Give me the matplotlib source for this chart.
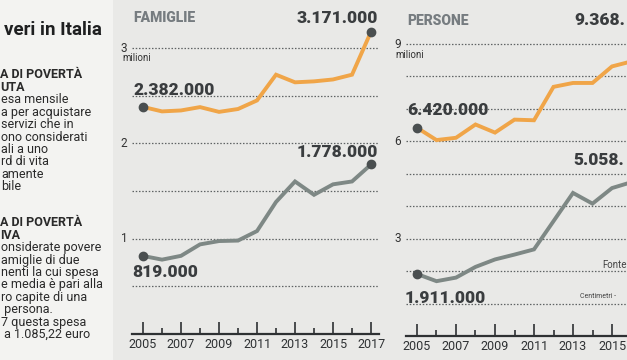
import matplotlib
matplotlib.use('Agg')
import matplotlib.pyplot as plt
from matplotlib.patches import Rectangle

W, H = 627, 360
fig = plt.figure(figsize=(6.27, 3.6), dpi=100)
fig.patch.set_facecolor('#e9e9e7')

# ---- data (millions) ----
years = list(range(2005, 2018))
fam_relative = [2.382, 2.335, 2.345, 2.38, 2.33, 2.36, 2.45, 2.72, 2.64, 2.65, 2.67, 2.72, 3.171]
fam_absolute = [0.819, 0.78, 0.82, 0.94, 0.975, 0.98, 1.08, 1.385, 1.60, 1.46, 1.57, 1.60, 1.778]
per_relative = [6.420, 6.04, 6.11, 6.52, 6.27, 6.67, 6.65, 7.68, 7.80, 7.80, 8.31, 8.465, 9.368]
per_absolute = [1.911, 1.69, 1.80, 2.13, 2.36, 2.51, 2.67, 3.54, 4.41, 4.08, 4.56, 4.742, 5.058]
fam_labels = ["2.382.000", "3.171.000", "819.000", "1.778.000"]
per_labels = ["6.420.000", "9.368.", "1.911.000", "5.058."]
fam_yticks = [1, 2, 3]
per_yticks = [3, 6, 9]

ORANGE = '#f0a548'
GREY = '#7e8885'
DOT = '#4a4f50'
DARK = '#3a3d3f'
TITLE = '#767c80'
FONT = 'Roboto'


def ftext(x, y, s, **kw):
    kw.setdefault('va', 'center')
    kw.setdefault('family', FONT)
    fig.text(x / W, 1 - y / H, s, **kw)


def px_axes(l, t, r, b):
    return fig.add_axes([l / W, 1 - b / H, (r - l) / W, (b - t) / H])

# left text column background
fig.patches.append(Rectangle((0, 0), 113 / W, 1, transform=fig.transFigure,
                             facecolor='#f3f3f1', edgecolor='none', zorder=0))


def style_axes(ax, xlim, ylim, grid_vals, max_label_year):
    ax.set_xlim(*xlim)
    ax.set_ylim(*ylim)
    ax.patch.set_alpha(0)
    for s in ['top', 'right', 'left']:
        ax.spines[s].set_visible(False)
    ax.spines['bottom'].set_color('#2e3133')
    ax.spines['bottom'].set_linewidth(1.6)
    ax.set_yticks([])
    ax.set_xticks([y for y in years if y % 2 == 1 and y <= max_label_year])
    ax.set_xticks([y for y in years if y % 2 == 0], minor=True)
    ax.tick_params(axis='x', which='major', direction='in', length=9, width=1.2,
                   color='#2e3133', labelsize=9, pad=3, labelcolor='#2e3133')
    ax.tick_params(axis='x', which='minor', direction='in', length=4.5, width=1.2,
                   color='#2e3133')
    for lab in ax.get_xticklabels():
        lab.set_family(FONT)
    for g in grid_vals:
        ax.axhline(g, color='#5f6364', lw=0.9, ls=(0, (1.2, 1.4)), zorder=1)


# ---- FAMIGLIE ----
ax1 = px_axes(132, 19.4, 379, 334)
style_axes(ax1, (2004.42, 2017.42), (0, 3.3), [0.5, 1, 1.5, 2, 2.5, 3], 2017)
ax1.plot(years, fam_relative, color=ORANGE, lw=2.8, solid_joinstyle='miter', zorder=3)
ax1.plot(years, fam_absolute, color=GREY, lw=2.8, solid_joinstyle='miter', zorder=3)
for ser in (fam_relative, fam_absolute):
    ax1.plot([years[0], years[-1]], [ser[0], ser[-1]], 'o', color=DOT, ms=6, zorder=4)

# ---- PERSONE ----
ax2 = px_axes(406, 15, 659, 336)
style_axes(ax2, (2004.436, 2017.41), (0, 9.895), [1, 2, 3, 4, 5, 6, 7, 8, 9], 2015)
ax2.plot(years, per_relative, color=ORANGE, lw=2.8, solid_joinstyle='miter', zorder=3)
ax2.plot(years, per_absolute, color=GREY, lw=2.8, solid_joinstyle='miter', zorder=3)
for ser in (per_relative, per_absolute):
    ax2.plot([years[0], years[-1]], [ser[0], ser[-1]], 'o', color=DOT, ms=6, zorder=4)

# y tick labels
for v in fam_yticks:
    ftext(124, 334 - v * 95.33, str(v), ha='center', fontsize=8.5, color='#333')
ftext(122, 58, 'milioni', ha='left', fontsize=7, color='#333')
for v in per_yticks:
    ftext(398, 336 - v * 32.44, str(v), ha='center', fontsize=8.5, color='#333')
ftext(395, 55, 'milioni', ha='left', fontsize=7, color='#333')

# titles
ftext(133, 18, 'FAMIGLIE', ha='left', fontsize=10, weight='heavy', color=TITLE)
ftext(407, 21, 'PERSONE', ha='left', fontsize=10, weight='heavy', color=TITLE)

# value labels
VL = dict(fontsize=12.5, weight='heavy', color=DARK)
ftext(133, 90, fam_labels[0], ha='left', **VL)
ftext(378, 18, fam_labels[1], ha='right', **VL)
ftext(132, 272, fam_labels[2], ha='left', **VL)
ftext(378, 152, fam_labels[3], ha='right', **VL)
ftext(407, 110, per_labels[0], ha='left', **VL)
ftext(574, 20, per_labels[1], ha='left', **VL)
ftext(405, 298, per_labels[2], ha='left', **VL)
ftext(573, 160, per_labels[3], ha='left', **VL)

# source
ftext(602, 265, 'Fonte', ha='left', fontsize=7, color='#444')
ftext(580, 297, 'Centimetri - ', ha='left', fontsize=5, color='#444')

# left text column
ftext(102, 30, 'veri in Italia', ha='right', fontsize=13.5, weight='bold', color='#1e1f20')
block1 = ['A DI POVERTÀ', 'UTA']
body1 = ['esa mensile', 'a per acquistare', 'servizi che in', 'ono considerati',
         'ali a uno', 'rd di vita', 'amente', 'bile']
block2 = ['A DI POVERTÀ', 'IVA']
body2 = ['onsiderate povere', 'amiglie di due', 'nenti la cui spesa',
         'e media è pari alla', 'ro capite di una', ' persona.', '7 questa spesa',
         ' a 1.085,22 euro']
y = 75
for s in block1:
    ftext(0, y, s, ha='left', fontsize=9, weight='bold', color='#2a2a2a')
    y += 12.4
for s in body1:
    ftext(1, y, s, ha='left', fontsize=9, color='#2a2a2a')
    y += 12.4
y = 223
for s in block2:
    ftext(0, y, s, ha='left', fontsize=9, weight='bold', color='#2a2a2a')
    y += 12.4
for s in body2:
    ftext(1, y, s, ha='left', fontsize=9, color='#2a2a2a')
    y += 12.4

fig.savefig('out.png', dpi=100, facecolor=fig.get_facecolor())
